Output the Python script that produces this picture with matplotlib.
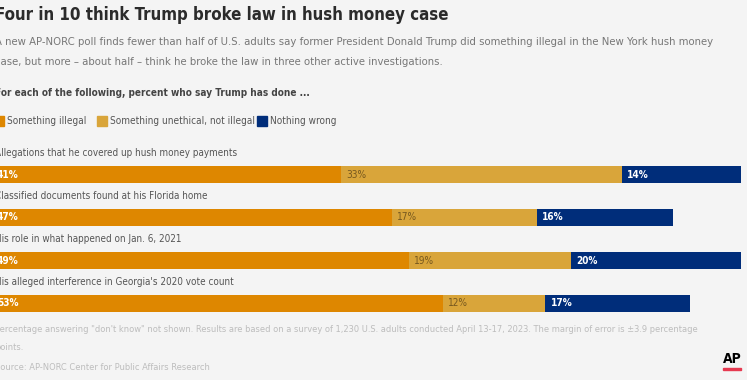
import numpy as np
import matplotlib
matplotlib.use("Agg")
import matplotlib.pyplot as plt
from matplotlib.patches import Rectangle

# Data
items = [
    "Allegations that he covered up hush money payments",
    "Classified documents found at his Florida home",
    "His role in what happened on Jan. 6, 2021",
    "His alleged interference in Georgia's 2020 vote count",
]
illegal = [41, 47, 49, 53]
unethical = [33, 17, 19, 12]
nothing_wrong = [14, 16, 20, 17]

series_names = ["Something illegal", "Something unethical, not illegal", "Nothing wrong"]
colors = ["#de8700", "#d9a53a", "#002d7a"]
label_colors = ["white", "#76581f", "white"]
label_weights = ["bold", "normal", "bold"]

BG = "#f4f4f4"
W, H = 747, 380
plt.rcParams["font.family"] = ["DejaVu Sans"]
plt.rcParams["font.stretch"] = "condensed"

fig = plt.figure(figsize=(W / 100, H / 100), dpi=100, facecolor=BG)


def fx(px):
    return px / W


def fy(py):
    return 1 - py / H


x0 = -8  # left edge of the bars, cut off in the original
tx = -5  # left edge of the text lines
scale = 8.515  # pixels per percentage point

# Title block
fig.text(fx(tx), fy(15), "Four in 10 think Trump broke law in hush money case",
         fontsize=12.1, fontweight="bold", color="#2b2b2b", va="center")
fig.text(fx(tx), fy(42), "A new AP-NORC poll finds fewer than half of U.S. adults say former President "
         "Donald Trump did something illegal in the New York hush money",
         fontsize=8.15, color="#777777", va="center")
fig.text(fx(tx), fy(62), "case, but more \u2013 about half \u2013 think he broke the law in three other "
         "active investigations.", fontsize=8.15, color="#777777", va="center")
fig.text(fx(tx), fy(93), "For each of the following, percent who say Trump has done ...",
         fontsize=7.2, fontweight="bold", color="#444444", va="center")

# Legend
legend_x = [-6, 97, 257]
for name, c, lx in zip(series_names, colors, legend_x):
    fig.patches.append(Rectangle((fx(lx), fy(126)), fx(10), 10 / H, color=c,
                                 transform=fig.transFigure, figure=fig))
    fig.text(fx(lx + 13), fy(121), name, fontsize=7.2, color="#555555", va="center")

# Bars
n = len(items)
row_px = 43
ax = fig.add_axes([fx(x0), fy(325), 100 * scale / W, n * row_px / H])
ax.set_facecolor("none")
ax.set_xlim(0, 100)
ax.set_ylim(n - 0.5, -0.5)
ax.axis("off")

y = np.arange(n)
left = np.zeros(n)
for vals, c, tc, tw in zip([illegal, unethical, nothing_wrong], colors, label_colors, label_weights):
    ax.barh(y, vals, left=left, height=17 / row_px, color=c, linewidth=0)
    for yi, l, v in zip(y, left, vals):
        ax.text(l + 5 / scale, yi, f"{v}%", color=tc, fontsize=7.2, fontweight=tw,
                va="center", ha="left")
    left = left + np.array(vals)

for yi, item in zip(y, items):
    ax.text((tx - x0) / scale, yi - 0.51, item, fontsize=7.1, color="#555555",
            va="center", ha="left")

# Footer
foot_c = "#bdbdbd"
fig.text(fx(tx), fy(330), "Percentage answering \"don't know\" not shown. Results are based on a survey "
         "of 1,230 U.S. adults conducted April 13-17, 2023. The margin of error is \u00b13.9 percentage",
         fontsize=6.7, color=foot_c, va="center")
fig.text(fx(tx), fy(347), "points.", fontsize=6.7, color=foot_c, va="center")
fig.text(fx(tx), fy(367), "Source: AP-NORC Center for Public Affairs Research",
         fontsize=6.7, color=foot_c, va="center")

# AP logo
fig.text(fx(732), fy(359), "AP", fontsize=10, fontweight="bold", color="black",
         ha="center", va="center")
fig.patches.append(Rectangle((fx(723), fy(370)), fx(18), 2 / H, color="#e63950",
                             transform=fig.transFigure, figure=fig))

fig.savefig("out.png", dpi=100, facecolor=BG)
